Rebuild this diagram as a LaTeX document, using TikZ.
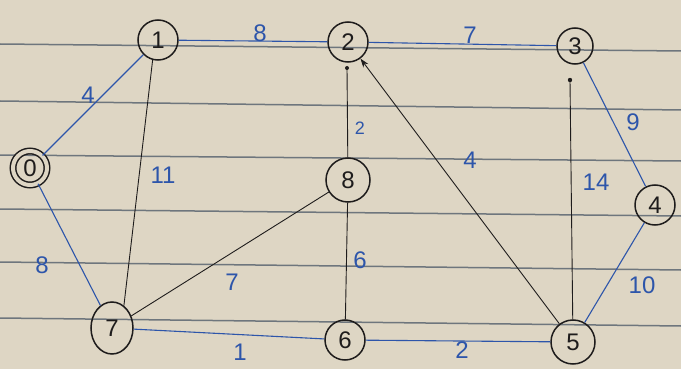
\documentclass[tikz,border=0pt]{standalone}
\usepackage{fontspec}
\setmainfont{Liberation Sans}
\usetikzlibrary{arrows.meta,shapes.geometric}
\definecolor{paper}{RGB}{222,214,196}
\definecolor{rule}{RGB}{110,118,125}
\definecolor{ink}{RGB}{30,28,28}
\definecolor{pen}{RGB}{45,85,170}
\begin{document}
\begin{tikzpicture}[x=1pt,y=-1pt,
  vert/.style={draw=ink,circle,line width=1.5pt,minimum size=40pt,inner sep=0pt,text=ink,font=\fontsize{24}{24}\selectfont},
  blueedge/.style={draw=pen,line width=1.1pt},
  blackedge/.style={draw=ink,line width=0.9pt},
  wlabel/.style={text=pen,font=\fontsize{24}{24}\selectfont}]
\fill[paper] (0,0) rectangle (681,369);
\useasboundingbox (0,0) rectangle (681,369);
% ruled lines
\foreach \a/\b in {44/51,101/110,155/161,209/216,262/270,318/326}
  \draw[rule,line width=1.5pt] (0,\a) -- (681,\b);
% vertices
\node[vert,double=paper,double distance=4pt,minimum size=34pt] (n0) at (30,168) {0};
\node[vert] (n1) at (158,40) {1};
\node[vert] (n2) at (348,42) {2};
\node[vert,minimum size=36pt] (n3) at (575,46) {3};
\node[vert] (n4) at (655,205) {4};
\node[vert,minimum size=44pt] (n5) at (573,342) {5};
\node[vert] (n6) at (345,340) {6};
\node[vert,ellipse,minimum width=42pt,minimum height=52pt] (n7) at (112,328) {7};
\node[vert,minimum size=44pt] (n8) at (348,180) {8};
\coordinate (d3) at (570,80);
\coordinate (d2) at (347,68);
% blue edges
\draw[blueedge] (n0) -- (n1);
\draw[blueedge] (n1) -- (n2);
\draw[blueedge] (n2) -- (n3);
\draw[blueedge] (n3) -- (n4);
\draw[blueedge] (n4) -- (n5);
\draw[blueedge] (n5) -- (n6);
\draw[blueedge] (n6) -- (n7);
\draw[blueedge] (n7) -- (n0);
% black edges
\draw[blackedge] (n1.255) -- (n7.62);
\draw[blackedge] (n7) -- (n8);
\draw[blackedge] (n8) -- (d2);
\fill[ink] (d2) circle (2pt);
\draw[blackedge] (n8) -- (n6);
\draw[blackedge,-{Stealth[length=9pt,width=6pt]}] (n5) -- (n2);
\draw[blackedge] (n5) -- (d3);
\fill[ink] (d3) circle (2.2pt);
% weights
\node[wlabel] (w01) at (88,95) {4};
\node[wlabel] (w12) at (260,33) {8};
\node[wlabel] (w23) at (470,35) {7};
\node[wlabel] (w34) at (633,122) {9};
\node[wlabel] (w45) at (642,285) {10};
\node[wlabel] (w56) at (462,350) {2};
\node[wlabel] (w67) at (240,352) {1};
\node[wlabel] (w70) at (42,265) {8};
\node[wlabel] (w17) at (163,175) {11};
\node[wlabel] (w78) at (232,282) {7};
\node[wlabel,font=\fontsize{18}{18}\selectfont] (w82) at (360,128) {2};
\node[wlabel] (w86) at (360,260) {6};
\node[wlabel] (w25) at (470,160) {4};
\node[wlabel] (w35) at (596,182) {14};
\end{tikzpicture}
\end{document}
